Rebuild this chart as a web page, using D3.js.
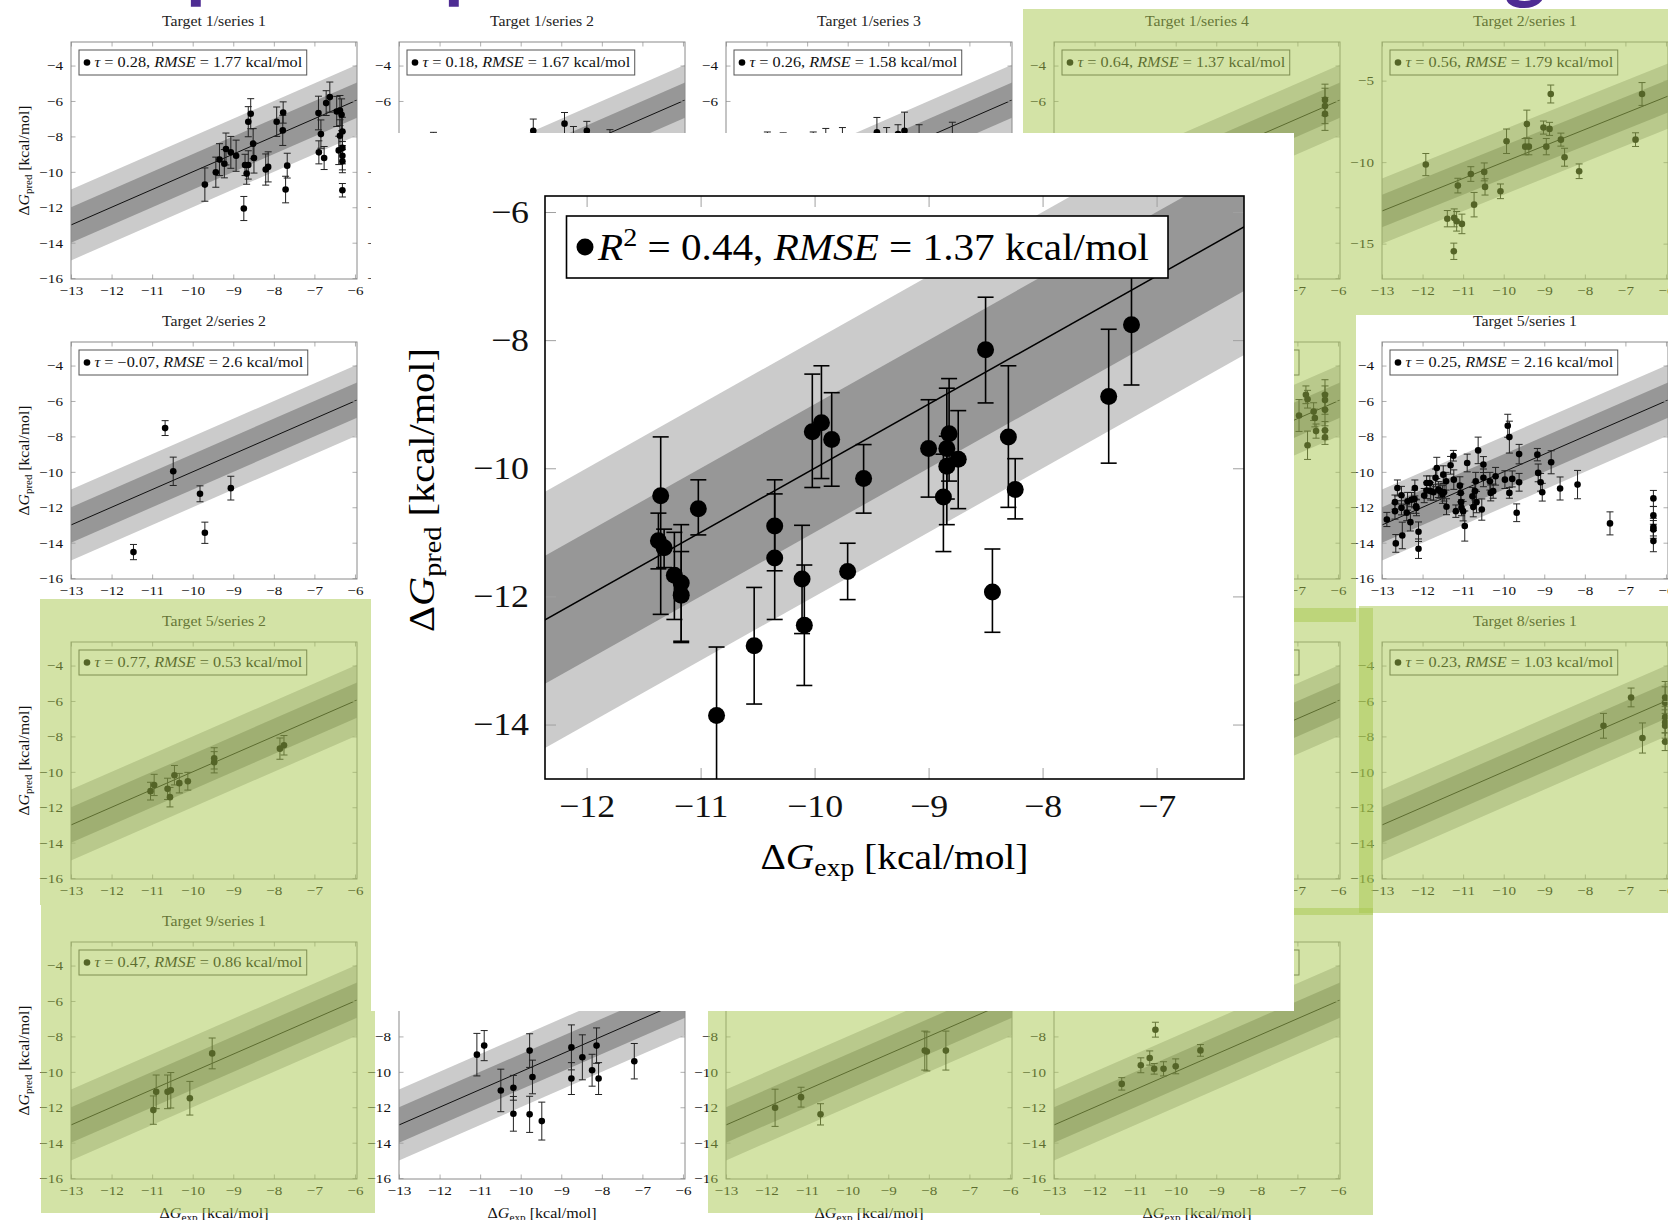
<!DOCTYPE html>
<html>
<head>
<meta charset="utf-8">
<script src="https://cdn.jsdelivr.net/npm/d3@7"></script>
<style>
  body { margin: 0; background: #fff; }
  svg { display: block; }
  text { white-space: pre; }
</style>
</head>
<body>
<svg id="fig" width="1668" height="1220"></svg>
<script>
var SERIF = "'Liberation Serif', 'DejaVu Serif', serif";

// ---- data: [x (exp), y (pred), error] ----
var t1s1 = [[-9.70,-10.72,0.94],[-9.43,-10.02,0.85],[-9.34,-9.31,0.9],[-9.22,-9.54,0.8],[-9.18,-8.71,0.9],
  [-9.06,-8.9,0.9],[-8.93,-9.09,0.88],[-8.74,-12.07,0.68],[-8.71,-9.61,0.6],[-8.67,-10.1,0.6],[-8.63,-7.17,0.85],
  [-8.63,-9.61,0.8],[-8.57,-6.72,0.85],[-8.51,-8.41,0.85],[-8.49,-9.22,0.85],[-8.20,-9.87,0.88],[-8.14,-9.72,0.85],
  [-7.93,-7.17,0.83],[-7.78,-7.66,0.85],[-7.77,-6.65,0.6],[-7.71,-11.0,0.75],[-7.67,-9.65,0.7],[-6.9,-6.68,0.95],
  [-6.89,-8.9,0.65],[-6.84,-7.87,0.8],[-6.76,-9.22,0.65],[-6.71,-6.12,0.7],[-6.62,-5.78,0.85],[-6.45,-6.59,0.85],
  [-6.40,-8.79,0.8],[-6.37,-6.54,0.85],[-6.37,-7.96,0.9],[-6.33,-6.78,0.9],[-6.31,-7.72,0.8],[-6.31,-8.65,0.9],
  [-6.31,-9.09,0.8],[-6.31,-9.4,0.65],[-6.31,-11.04,0.38]];
var t1s2 = [[-12.15,-8.6,0.83],[-9.69,-7.68,0.66],[-8.92,-7.28,0.63],[-8.70,-8.4,0.96],[-8.37,-7.68,0.53],[-7.80,-8.5,0.88]];
var t1s3 = [[-11.98,-8.6,0.85],[-11.59,-8.7,0.9],[-10.85,-8.6,0.85],[-10.54,-8.5,0.95],[-10.13,-8.4,0.9],
  [-9.28,-7.77,0.84],[-9.04,-8.4,0.9],[-8.76,-7.87,0.53],[-8.6,-7.68,1.05],[-8.24,-8.3,0.96],[-7.42,-8.2,1.0]];
var t1s4 = [[-6.32,-5.94,0.89],[-6.32,-6.28,1.0],[-6.32,-6.73,0.93]];
var t2s1 = [[-11.92,-10.15,0.68],[-11.13,-11.44,0.45],[-11.39,-13.47,0.5],[-11.22,-13.42,0.55],[-11.16,-13.63,0.6],
  [-11.03,-13.79,0.6],[-11.23,-15.47,0.5],[-10.81,-10.73,0.45],[-10.73,-12.61,0.75],[-10.48,-10.6,0.55],
  [-10.46,-11.52,0.5],[-10.08,-11.79,0.45],[-9.93,-8.72,0.75],[-9.47,-9.05,0.5],[-9.43,-7.66,0.85],[-9.38,-9.05,0.5],
  [-9.02,-7.88,0.4],[-8.95,-9.05,0.5],[-8.87,-7.96,0.4],[-8.84,-5.82,0.55],[-8.59,-8.62,0.4],[-8.5,-9.7,0.55],
  [-8.14,-10.56,0.45],[-6.75,-8.62,0.42],[-6.59,-5.82,0.7]];
var t2s2 = [[-10.68,-7.53,0.42],[-10.48,-9.97,0.8],[-11.46,-14.53,0.43],[-9.82,-11.24,0.45],[-9.70,-13.44,0.6],[-9.06,-10.92,0.67]];
var row2col4 = [[-6.96,-6.82,0.9],[-6.79,-5.65,0.5],[-6.75,-5.9,0.5],[-6.75,-8.5,0.8],[-6.6,-6.6,0.5],[-6.57,-6.96,0.5],
  [-6.54,-7.7,0.4],[-6.32,-5.65,0.85],[-6.32,-5.95,0.8],[-6.32,-6.5,0.9],[-6.32,-7.66,0.5],[-6.32,-8.05,0.4]];
var t5s1 = [[-12.88,-12.69,0.4],[-12.68,-11.71,0.4],[-12.68,-12.22,0.45],[-12.66,-14.04,0.5],[-12.62,-10.91,0.45],
  [-12.52,-11.32,0.5],[-12.52,-12.03,0.4],[-12.5,-13.59,0.75],[-12.39,-12.31,0.45],[-12.37,-11.66,0.5],[-12.3,-12.84,0.5],
  [-12.27,-11.57,0.4],[-12.2,-11.53,0.5],[-12.19,-10.91,0.45],[-12.16,-11.94,0.4],[-12.15,-12.03,0.45],[-12.1,-13.38,0.55],
  [-12.1,-14.34,0.55],[-11.96,-11.34,0.4],[-11.9,-10.63,0.4],[-11.9,-11.06,0.45],[-11.82,-10.63,0.4],[-11.8,-11.09,0.5],
  [-11.73,-11.15,0.45],[-11.68,-10.34,0.5],[-11.65,-9.78,0.6],[-11.61,-11.0,0.45],[-11.57,-11.09,0.4],[-11.51,-11.28,0.5],
  [-11.49,-10.16,0.5],[-11.47,-11.15,0.5],[-11.41,-11.97,0.45],[-11.42,-10.53,0.5],[-11.31,-9.63,0.5],[-11.24,-9.09,0.3],
  [-11.23,-10.44,0.55],[-11.18,-12.22,0.35],[-11.08,-10.78,0.5],[-11.06,-11.19,0.5],[-11.05,-11.71,0.5],[-11.04,-12.03,0.45],
  [-11.0,-12.22,0.55],[-10.96,-13.06,0.85],[-10.9,-9.5,0.5],[-10.77,-11.38,0.5],[-10.75,-11.99,0.55],[-10.71,-11.09,0.5],
  [-10.69,-10.53,0.5],[-10.67,-11.71,0.6],[-10.63,-8.79,0.75],[-10.54,-12.13,0.6],[-10.5,-10.34,0.5],[-10.5,-9.59,0.45],
  [-10.34,-10.53,0.5],[-10.32,-11.19,0.45],[-10.26,-11.09,0.4],[-10.2,-10.25,0.5],[-9.9,-7.4,0.65],[-9.97,-10.44,0.5],
  [-9.86,-8.04,0.9],[-9.86,-11.19,0.3],[-9.79,-10.4,0.45],[-9.68,-12.31,0.5],[-9.62,-9.0,0.55],[-9.62,-10.59,0.5],
  [-9.17,-9.03,0.35],[-9.15,-10.06,0.5],[-9.09,-10.59,0.5],[-9.05,-11.15,0.5],[-8.83,-9.46,0.65],[-8.61,-10.94,0.65],
  [-8.18,-10.72,0.8],[-7.38,-12.91,0.65],[-6.31,-11.5,0.45],[-6.31,-12.46,0.5],[-6.31,-13.12,0.5],[-6.31,-13.25,0.5],
  [-6.31,-13.91,0.6]];
var t5s2 = [[-11.04,-11.09,0.5],[-10.95,-10.74,0.6],[-10.62,-10.96,0.6],[-10.56,-11.43,0.55],[-10.45,-10.19,0.55],
  [-10.33,-10.64,0.55],[-10.12,-10.53,0.5],[-9.47,-9.24,0.6],[-9.47,-9.46,0.6],[-7.85,-8.69,0.6],[-7.75,-8.5,0.55]];
var row3col4 = [];
var t8s1 = [[-7.54,-7.4,0.7],[-6.86,-5.8,0.53],[-6.58,-8.09,0.85],[-6.02,-5.8,0.9],[-6.02,-6.1,0.9],[-6.02,-6.9,0.9],
  [-6.02,-7.2,0.9],[-6.02,-7.4,0.9],[-6.02,-8.3,0.5]];
var t9s1 = [[-10.97,-12.16,0.8],[-10.9,-11.13,0.95],[-10.62,-11.13,0.95],[-10.54,-11.04,1.0],[-10.07,-11.49,0.95],[-9.52,-8.96,0.87]];
var row4col2 = [[-11.08,-9.03,1.2],[-10.9,-8.52,0.85],[-10.49,-11.05,1.2],[-10.18,-10.9,0.7],[-10.18,-12.37,0.98],
  [-9.78,-8.8,0.95],[-9.78,-12.4,1.02],[-9.71,-10.29,0.95],[-9.48,-12.78,1.07],[-8.75,-8.62,1.27],[-8.75,-10.38,0.9],
  [-8.48,-9.18,1.27],[-8.24,-9.91,0.9],[-8.13,-8.52,1.0],[-8.08,-10.38,0.9],[-7.2,-9.4,1.0]];
var row4col3 = [[-11.79,-12.03,1.05],[-11.15,-11.43,0.56],[-10.67,-12.4,0.6],[-8.1,-8.8,1.1],[-8.05,-8.85,1.1],[-7.58,-8.8,1.1]];
var row4col4 = [[-11.33,-10.68,0.35],[-10.86,-9.63,0.42],[-10.64,-9.22,0.4],[-10.5,-7.62,0.42],[-10.53,-9.83,0.3],
  [-10.3,-9.83,0.4],[-10.0,-9.69,0.42],[-9.39,-8.79,0.33]];

// enlarged plot: [x, y, bar top, bar bottom]
var bigData = [[-11.35,-10.43,-9.51,-12.28],[-11.37,-11.13,-10.70,-11.57],[-11.32,-11.24,-10.95,-11.55],
  [-11.23,-11.67,-11.0,-12.36],[-11.17,-11.79,-10.88,-12.70],[-11.17,-11.98,-11.3,-12.72],[-11.02,-10.63,-10.18,-11.04],
  [-10.86,-13.86,-12.79,-15.5],[-10.53,-12.77,-11.86,-13.68],[-10.35,-10.9,-10.18,-11.6],[-10.35,-11.4,-10.4,-12.36],
  [-10.11,-11.73,-10.89,-12.58],[-10.09,-12.45,-11.51,-13.39],[-10.02,-9.43,-8.53,-10.3],[-9.94,-9.29,-8.40,-10.16],
  [-9.85,-9.55,-8.82,-10.28],[-9.71,-11.61,-11.17,-12.05],[-9.57,-10.16,-9.63,-10.70],[-9.0,-9.69,-8.93,-10.45],
  [-8.87,-10.45,-9.78,-11.3],[-8.84,-9.69,-8.75,-10.48],[-8.82,-9.46,-8.6,-10.2],[-8.84,-9.97,-9.5,-10.88],
  [-8.74,-9.86,-9.1,-10.63],[-8.5,-8.15,-7.33,-8.98],[-8.44,-11.93,-11.26,-12.56],[-8.3,-9.51,-8.4,-10.61],
  [-8.24,-10.33,-9.85,-10.79],[-7.42,-8.88,-7.83,-9.92],[-7.22,-7.76,-6.88,-8.70]];

var xTicks = [-13, -12, -11, -10, -9, -8, -7, -6];
var yTicks = [-16, -14, -12, -10, -8, -6, -4];
var yTicksWide = [-15, -10, -5];
var bigXTicks = [-12, -11, -10, -9, -8, -7];
var bigYTicks = [-14, -12, -10, -8, -6];

var panels = [
  {col:0, row:0, title:"Target 1/series 1", tau:"0.28", rmse:"1.77", data:t1s1},
  {col:1, row:0, title:"Target 1/series 2", tau:"0.18", rmse:"1.67", data:t1s2},
  {col:2, row:0, title:"Target 1/series 3", tau:"0.26", rmse:"1.58", data:t1s3},
  {col:3, row:0, title:"Target 1/series 4", tau:"0.64", rmse:"1.37", data:t1s4},
  {col:4, row:0, title:"Target 2/series 1", tau:"0.56", rmse:"1.79", data:t2s1, wide:true},
  {col:0, row:1, title:"Target 2/series 2", tau:"\u22120.07", rmse:"2.6", data:t2s2},
  {col:3, row:1, box:true, data:row2col4},
  {col:4, row:1, title:"Target 5/series 1", tau:"0.25", rmse:"2.16", data:t5s1},
  {col:0, row:2, title:"Target 5/series 2", tau:"0.77", rmse:"0.53", data:t5s2},
  {col:3, row:2, box:true, data:row3col4},
  {col:4, row:2, title:"Target 8/series 1", tau:"0.23", rmse:"1.03", data:t8s1},
  {col:0, row:3, title:"Target 9/series 1", tau:"0.47", rmse:"0.86", data:t9s1},
  {col:1, row:3, data:row4col2},
  {col:2, row:3, data:row4col3},
  {col:3, row:3, box:true, data:row4col4}
];

// ---- layout ----
var colX = [71, 399, 726, 1054, 1382], rowY = [42, 342, 642, 942];
var pw = 286, ph = 237;
var card = {x: 371, y: 133, w: 923, h: 878};
var greenBoxes = [[1023,9,1356,315],[1356,9,1700,315],[1023,315,1356,622],[1040,608,1373,915],
  [1359,606,1700,913],[40,599,375,905],[41,905,375,1213],[708,905,1040,1213],[1040,908,1373,1215]];

var svg = d3.select("#fig").attr("font-family", SERIF);
svg.append("rect").attr("width", 1668).attr("height", 1220).attr("fill", "#fff");

// cut-off slide heading at the very top
[["p", 186], ["p", 444], ["g", 1504]].forEach(function(d) {
  svg.append("text").attr("x", d[1]).attr("y", -7)
    .attr("font-family", "Lato, 'Open Sans', sans-serif").attr("font-weight", 700)
    .attr("font-size", 80).attr("fill", "#4e2c93").text(d[0]);
});

function cm(sel, k) {
  sel.each(function() {
    var len = this.getComputedTextLength();
    d3.select(this).attr("textLength", len * k).attr("lengthAdjust", "spacingAndGlyphs");
  });
}

function barEnds(d) { return d.length === 4 ? [d[2], d[3]] : [d[1] + d[2], d[1] - d[2]]; }

function drawMarks(g, data, x, y, r, cap, sw, col) {
  g.selectAll("line.eb").data(data).enter().append("line").attr("class", "eb")
    .attr("x1", function(d) { return x(d[0]); }).attr("x2", function(d) { return x(d[0]); })
    .attr("y1", function(d) { return y(barEnds(d)[0]); }).attr("y2", function(d) { return y(barEnds(d)[1]); })
    .attr("stroke", col).attr("stroke-width", sw);
  [0, 1].forEach(function(k) {
    g.selectAll("line.cap" + k).data(data).enter().append("line").attr("class", "cap" + k)
      .attr("x1", function(d) { return x(d[0]) - cap; }).attr("x2", function(d) { return x(d[0]) + cap; })
      .attr("y1", function(d) { return y(barEnds(d)[k]); }).attr("y2", function(d) { return y(barEnds(d)[k]); })
      .attr("stroke", col).attr("stroke-width", sw);
  });
  g.selectAll("circle.dot").data(data).enter().append("circle").attr("class", "dot")
    .attr("cx", function(d) { return x(d[0]); }).attr("cy", function(d) { return y(d[1]); })
    .attr("r", r).attr("fill", "#000");
}

function drawBands(g, x, y) {
  var band = function(off) { return [[-20, -20 + off], [0, off], [0, -off], [-20, -20 - off]]; };
  var line = d3.line().x(function(d) { return x(d[0]); }).y(function(d) { return y(d[1]); });
  g.append("path").attr("d", line(band(2)) + "Z").attr("fill", "#cbcbcb");
  g.append("path").attr("d", line(band(1)) + "Z").attr("fill", "#979797");
  g.append("path").attr("d", line([[-20, -20], [0, 0]])).attr("stroke", "#000").attr("fill", "none")
    .attr("stroke-width", g.attr("data-lw"));
}

function axes(g, x, y, xt, yt, opt) {
  var x0 = x.range()[0], x1 = x.range()[1], y0 = y.range()[1], y1 = y.range()[0];
  var specs = [
    [d3.axisBottom(x).tickValues(xt), "translate(0," + y1 + ")", true, opt.padX],
    [d3.axisTop(x).tickValues(xt), "translate(0," + y0 + ")", false, 0],
    [d3.axisLeft(y).tickValues(yt), "translate(" + x0 + ",0)", true, opt.padY],
    [d3.axisRight(y).tickValues(yt), "translate(" + x1 + ",0)", false, 0]
  ];
  specs.forEach(function(s) {
    var a = g.append("g").attr("transform", s[1])
      .call(s[0].tickSize(-opt.tick).tickPadding(s[3]).tickFormat(d3.format("d")));
    a.attr("font-family", SERIF).attr("font-size", opt.fs);
    a.select(".domain").remove();
    a.selectAll(".tick line").attr("stroke", opt.tickCol).attr("stroke-width", opt.tickW);
    if (!s[2]) a.selectAll(".tick text").remove();
    else a.selectAll(".tick text").attr("fill", "#111").call(cm, 1.12);
  });
}

function legendLine(t, sym, val, rmse, supSize) {
  t.append("tspan").attr("font-style", "italic").text(sym);
  if (supSize) {
    t.append("tspan").attr("font-size", supSize).attr("dy", -supSize * 0.55).text("2");
    t.append("tspan").attr("dy", supSize * 0.55).text(" = " + val + ", ");
  } else {
    t.append("tspan").text(" = " + val + ", ");
  }
  t.append("tspan").attr("font-style", "italic").text("RMSE");
  t.append("tspan").text(" = " + rmse + " kcal/mol");
}

function axisTitle(t, sub, fs) {
  t.append("tspan").text("\u0394");
  t.append("tspan").attr("font-style", "italic").text("G");
  t.append("tspan").attr("font-size", fs * 0.7).attr("dy", fs * 0.2).text(sub);
  t.append("tspan").attr("dy", -fs * 0.2).text(" [kcal/mol]");
}

function drawPanel(p) {
  var x0 = colX[p.col], y0 = rowY[p.row];
  var x = d3.scaleLinear().domain([-13, -5.95]).range([x0, x0 + pw]);
  var y = d3.scaleLinear().domain(p.wide ? [-17.17, -2.63] : [-16.05, -2.67]).range([y0 + ph, y0]);
  var g = svg.append("g").attr("class", "panel");
  var cid = "clip" + p.col + "_" + p.row;
  g.append("clipPath").attr("id", cid).append("rect")
    .attr("x", x0).attr("y", y0).attr("width", pw).attr("height", ph);
  var inner = g.append("g").attr("clip-path", "url(#" + cid + ")").attr("data-lw", 0.9);
  drawBands(inner, x, y);
  axes(g, x, y, xTicks, p.wide ? yTicksWide : yTicks,
    {fs: 13.5, tick: 4.5, padX: 6, padY: 8, tickCol: "#9a9a9a", tickW: 0.8});
  drawMarks(inner, p.data, x, y, 3.3, 3.5, 1, "#222");
  g.append("rect").attr("x", x0).attr("y", y0).attr("width", pw).attr("height", ph)
    .attr("fill", "none").attr("stroke", "#8a8a8a").attr("stroke-width", 1);

  if (p.title) {
    g.append("text").attr("x", x0 + pw / 2).attr("y", y0 - 16.5).attr("text-anchor", "middle")
      .attr("font-size", 14).attr("fill", "#222").text(p.title).call(cm, 1.13);
  }
  if (p.tau || p.box) {
    var lg = g.append("g");
    var box = lg.append("rect").attr("x", x0 + 8).attr("y", y0 + 8).attr("width", 237).attr("height", 25)
      .attr("fill", "#fff").attr("stroke", "#555").attr("stroke-width", 1);
    if (p.tau) {
      lg.append("circle").attr("cx", x0 + 16).attr("cy", y0 + 20.5).attr("r", 3.3).attr("fill", "#000");
      var t = lg.append("text").attr("x", x0 + 23.5).attr("y", y0 + 25.3).attr("font-size", 14).attr("fill", "#111");
      legendLine(t, "\u03c4", p.tau, p.rmse);
      t.call(cm, 1.16);
      box.attr("width", +t.attr("textLength") + 20);
    }
  }
  if (p.col === 0) {
    var yt = g.append("text").attr("transform", "translate(29," + (y0 + ph / 2) + ") rotate(-90)")
      .attr("text-anchor", "middle").attr("font-size", 14).attr("fill", "#111");
    axisTitle(yt, "pred", 14);
    yt.attr("textLength", 110).attr("lengthAdjust", "spacingAndGlyphs");
  }
  if (p.row === 3) {
    var xt = g.append("text").attr("x", x0 + pw / 2).attr("y", 1218)
      .attr("text-anchor", "middle").attr("font-size", 14).attr("fill", "#111");
    axisTitle(xt, "exp", 14);
    xt.attr("textLength", 109).attr("lengthAdjust", "spacingAndGlyphs");
  }
}

panels.forEach(drawPanel);

// labels that end up completely under the white card are never seen: drop them
svg.selectAll("g.panel text").each(function() {
  var r = this.getBoundingClientRect();
  if (r.left >= card.x && r.right <= card.x + card.w && r.top >= card.y && r.bottom <= card.y + card.h) {
    d3.select(this).remove();
  }
});

// green highlight overlays
svg.append("g").selectAll("rect").data(greenBoxes).enter().append("rect")
  .attr("x", function(d) { return d[0]; }).attr("y", function(d) { return d[1]; })
  .attr("width", function(d) { return d[2] - d[0]; }).attr("height", function(d) { return d[3] - d[1]; })
  .attr("fill", "rgb(168,200,78)").attr("fill-opacity", 0.5);

// ---- enlarged plot on a white card ----
svg.append("rect").attr("x", card.x).attr("y", card.y).attr("width", card.w).attr("height", card.h).attr("fill", "#fff");

var B = {left: 545, top: 196, width: 699, height: 583};
var bx = d3.scaleLinear().domain([-12.365, -6.233]).range([B.left, B.left + B.width]);
var by = d3.scaleLinear().domain([-14.85, -5.75]).range([B.top + B.height, B.top]);
var bg = svg.append("g");
bg.append("clipPath").attr("id", "clipBig").append("rect")
  .attr("x", B.left).attr("y", B.top).attr("width", B.width).attr("height", B.height);
var binner = bg.append("g").attr("clip-path", "url(#clipBig)").attr("data-lw", 1.5);
drawBands(binner, bx, by);
axes(bg, bx, by, bigXTicks, bigYTicks, {fs: 32, tick: 11, padX: 15, padY: 16, tickCol: "#a0a0a0", tickW: 1});
drawMarks(binner, bigData, bx, by, 8.5, 8, 1.6, "#000");
bg.append("rect").attr("x", B.left).attr("y", B.top).attr("width", B.width).attr("height", B.height)
  .attr("fill", "none").attr("stroke", "#000").attr("stroke-width", 1.6);

bg.append("rect").attr("x", 566.5).attr("y", 216).attr("width", 601.5).attr("height", 62)
  .attr("fill", "#fff").attr("stroke", "#000").attr("stroke-width", 1.6);
bg.append("circle").attr("cx", 585).attr("cy", 247).attr("r", 8.5).attr("fill", "#000");
var bl = bg.append("text").attr("x", 598).attr("y", 260).attr("font-size", 38).attr("fill", "#000");
legendLine(bl, "R", "0.44", "1.37", 26);
bl.attr("textLength", 551).attr("lengthAdjust", "spacingAndGlyphs");

var bxt = bg.append("text").attr("x", 894.5).attr("y", 869).attr("text-anchor", "middle")
  .attr("font-size", 36).attr("fill", "#000");
axisTitle(bxt, "exp", 36);
bxt.attr("textLength", 268).attr("lengthAdjust", "spacingAndGlyphs");

var byt = bg.append("text").attr("transform", "translate(434,490) rotate(-90)").attr("text-anchor", "middle")
  .attr("font-size", 36).attr("fill", "#000");
axisTitle(byt, "pred", 36);
byt.attr("textLength", 284).attr("lengthAdjust", "spacingAndGlyphs");
</script>
</body>
</html>
